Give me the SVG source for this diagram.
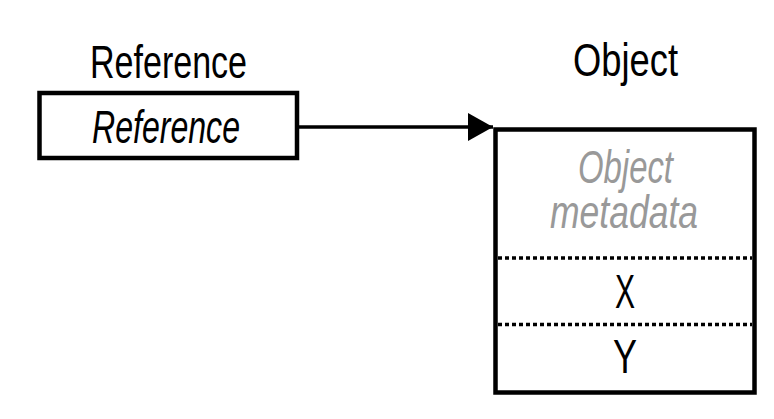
<svg xmlns="http://www.w3.org/2000/svg" width="774" height="419" viewBox="0 0 774 419">
<style>
.t{font-family:"Liberation Sans Narrow","Liberation Sans",Arial,sans-serif;font-size:46px;fill:#000}
.big{font-size:49px}
.i{font-style:italic}
.g{fill:#999}
.box{fill:#fff;stroke:#000;stroke-width:4.5}
.dot{stroke:#000;stroke-width:3.5;stroke-dasharray:4 3;fill:none}
.conn{stroke:#000;stroke-width:3.5;fill:none}
</style>
<defs>
<marker id="ah" markerUnits="userSpaceOnUse" markerWidth="26" markerHeight="28" refX="25" refY="14" orient="auto">
<path d="M0,0 L25,14 L0,28 Z" fill="#000"/>
</marker>
</defs>
<rect width="774" height="419" fill="#fff"/>
<g id="reference">
<text class="t" x="90" y="78" textLength="157" lengthAdjust="spacingAndGlyphs">Reference</text>
<rect class="box" x="39.5" y="93" width="257.5" height="65"/>
<text class="t i" x="92" y="143" textLength="148" lengthAdjust="spacingAndGlyphs">Reference</text>
</g>
<g id="object">
<text class="t" x="573" y="76" textLength="105" lengthAdjust="spacingAndGlyphs">Object</text>
<rect class="box" x="495.5" y="129.5" width="259" height="263"/>
<text class="t i g" x="578" y="183" textLength="95" lengthAdjust="spacingAndGlyphs">Object</text>
<text class="t i g" x="550" y="228" textLength="148" lengthAdjust="spacingAndGlyphs">metadata</text>
<line class="dot" x1="498" y1="258" x2="752" y2="258"/>
<text class="t big" x="615" y="308" textLength="20" lengthAdjust="spacingAndGlyphs">X</text>
<line class="dot" x1="498" y1="324.5" x2="752" y2="324.5"/>
<text class="t big" x="613" y="373" textLength="24" lengthAdjust="spacingAndGlyphs">Y</text>
</g>
<g id="connectors">
<line class="conn" x1="297" y1="127" x2="493" y2="127" marker-end="url(#ah)"/>
</g>
</svg>
